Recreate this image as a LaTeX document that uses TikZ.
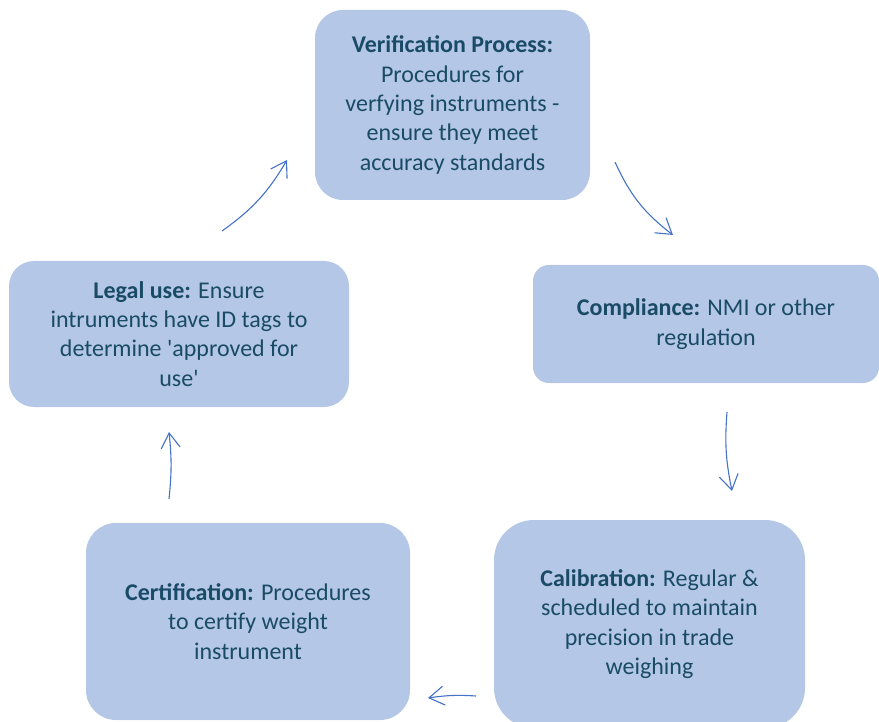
\documentclass[tikz,border=0pt]{standalone}
\usepackage{fontspec}
\setmainfont{Carlito}
\usetikzlibrary{arrows.meta}
\definecolor{boxfill}{HTML}{B4C7E7}
\definecolor{boxtext}{HTML}{1A4B66}
\definecolor{flow}{HTML}{4472C4}
\begin{document}
\begin{tikzpicture}[x=1pt,y=-1pt,
  stage/.style={fill=boxfill, draw=none, align=center, text=boxtext,
    font=\fontsize{24}{29.3}\selectfont, inner sep=0pt},
  cycle arrow/.style={draw=flow, line width=1.1pt,
    -{Straight Barb[length=15pt,width=19pt]}}]
\useasboundingbox (0,0) rectangle (879,722);
\clip (0,0) rectangle (879,722);

% stages of the cycle
\node[stage, minimum width=275pt, minimum height=190pt, rounded corners=28pt] (verif) at (452.5,105)
  {\textbf{Verification Process:}\\Procedures for\\verfying instruments -\\ensure they meet\\accuracy standards};
\node[stage, minimum width=346pt, minimum height=118pt, rounded corners=16pt] (compl) at (706,324)
  {\textbf{Compliance:} NMI or other\\regulation};
\node[stage, minimum width=311pt, minimum height=208pt, rounded corners=40pt] (calib) at (649.5,624)
  {\textbf{Calibration:} Regular \&\\scheduled to maintain\\precision in trade\\weighing};
\node[stage, minimum width=324pt, minimum height=197pt, rounded corners=30pt] (cert) at (248,621.5)
  {\textbf{Certification:} Procedures\\to certify weight\\instrument};
\node[stage, minimum width=340pt, minimum height=146pt, rounded corners=25pt] (legal) at (179,334)
  {\textbf{Legal use:} Ensure\\intruments have ID tags to\\determine \textquotesingle approved for\\use\textquotesingle};

% arrow end points in the gaps between stages
\coordinate (a1s) at (615,162);  \coordinate (a1e) at (673,235);
\coordinate (a2s) at (727,412);  \coordinate (a2e) at (732,491);
\coordinate (a3s) at (476,696);  \coordinate (a3e) at (428,698);
\coordinate (a4s) at (169,499);  \coordinate (a4e) at (169,432);
\coordinate (a5s) at (222,231);  \coordinate (a5e) at (287,160);

\draw[cycle arrow] (a1s) to[bend right=14] (a1e);
\draw[cycle arrow] (a2s) to[bend right=8] (a2e);
\draw[cycle arrow] (a3s) to[bend right=6] (a3e);
\draw[cycle arrow] (a4s) to[bend right=6] (a4e);
\draw[cycle arrow] (a5s) to[bend right=12] (a5e);
\end{tikzpicture}
\end{document}
